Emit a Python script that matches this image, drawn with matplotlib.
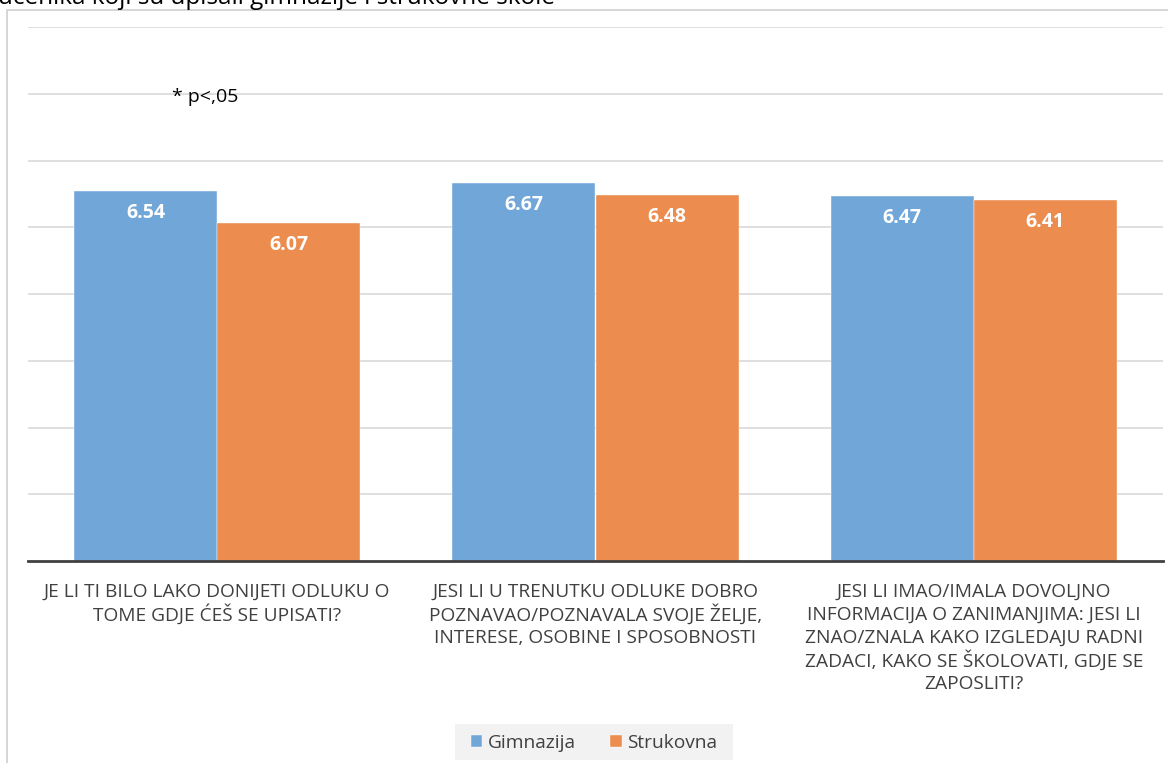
import matplotlib
matplotlib.use("Agg")
import matplotlib.pyplot as plt
import numpy as np
from matplotlib.patches import Rectangle

plt.rcParams['font.family'] = ['Open Sans', 'DejaVu Sans']

categories = [
    "JE LI TI BILO LAKO DONIJETI ODLUKU O\nTOME GDJE ĆEŠ SE UPISATI?",
    "JESI LI U TRENUTKU ODLUKE DOBRO\nPOZNAVAO/POZNAVALA SVOJE ŽELJE,\nINTERESE, OSOBINE I SPOSOBNOSTI",
    "JESI LI IMAO/IMALA DOVOLJNO\nINFORMACIJA O ZANIMANJIMA: JESI LI\nZNAO/ZNALA KAKO IZGLEDAJU RADNI\nZADACI, KAKO SE ŠKOLOVATI, GDJE SE\nZAPOSLITI?",
]
series_names = ["Gimnazija", "Strukovna"]
gimnazija = [6.54, 6.67, 6.47]
strukovna = [6.07, 6.48, 6.41]
colors = ["#70a6d8", "#ec8c4f"]

W, H = 1168, 763
fig = plt.figure(figsize=(W / 100, H / 100), dpi=100)

# outer chart frame
fig.patches.append(Rectangle((7 / W, -0.01), 1.02 - 7 / W, 1 - 10 / H + 0.01,
                             transform=fig.transFigure, fill=False,
                             edgecolor="#d0d0d0", linewidth=1.2, zorder=0))
# legend background box
fig.patches.append(Rectangle((455 / W, 1 - 760 / H), (733 - 455) / W, 36 / H,
                             transform=fig.transFigure, facecolor="#f2f2f2",
                             edgecolor="none", zorder=0))

# partially visible title above the frame
fig.text(-0.002, 1 - 4 / H, "učenika koji su upisali gimnazije i strukovne škole",
         fontsize=17.5, color="#000000", ha="left", va="baseline")

ax = fig.add_axes([28 / W, 1 - 561 / H, (1163 - 28) / W, (561 - 27) / H])
x = np.arange(len(categories))
bw = 0.378
b1 = ax.bar(x - bw / 2, gimnazija, bw, color=colors[0], label=series_names[0],
            zorder=2, edgecolor="white", linewidth=0.3)
b2 = ax.bar(x + bw / 2, strukovna, bw, color=colors[1], label=series_names[1],
            zorder=2, edgecolor="white", linewidth=0.3)

ax.set_ylim(1, 9)
ax.set_xlim(-0.5, 2.5)
ax.set_yticks(np.arange(2, 10))
ax.yaxis.grid(True, color="#d9d9d9", linewidth=1.2, zorder=0)
ax.set_axisbelow(True)
ax.tick_params(axis="y", left=False, labelleft=False)
ax.tick_params(axis="x", bottom=False, labelbottom=False)
for s in ["left", "right", "top"]:
    ax.spines[s].set_visible(False)
ax.spines["bottom"].set_color("#404040")
ax.spines["bottom"].set_linewidth(2)
ax.patch.set_alpha(0)

for bars, vals in ((b1, gimnazija), (b2, strukovna)):
    for rect, v in zip(bars, vals):
        ax.annotate(f"{v:.2f}", (rect.get_x() + rect.get_width() / 2, v),
                    xytext=(0, -16), textcoords="offset points",
                    ha="center", va="center", color="white",
                    fontsize=14, fontweight="bold")

# category labels, one line at a time for uniform spacing (23 px = 16.56 pt)
for i, lab in enumerate(categories):
    for j, line in enumerate(lab.split("\n")):
        ax.annotate(line, (i, 1), xytext=(0, -22 - j * 16.56),
                    textcoords="offset points", ha="center", va="center",
                    fontsize=13.8, color="#404040", annotation_clip=False)

fig.text(172 / W, 1 - 97 / H, "* p<,05", fontsize=14, color="#000000",
         ha="left", va="center")

leg = fig.legend(handles=[b1, b2], labels=series_names, loc="center",
                 bbox_to_anchor=(594 / W, 1 - 743 / H), ncol=2, frameon=False,
                 fontsize=13.8, handlelength=0.6, handleheight=0.6,
                 handletextpad=0.3, columnspacing=1.8, borderpad=0.3,
                 borderaxespad=0)
for t in leg.get_texts():
    t.set_color("#404040")

fig.savefig("out.png", dpi=100)
